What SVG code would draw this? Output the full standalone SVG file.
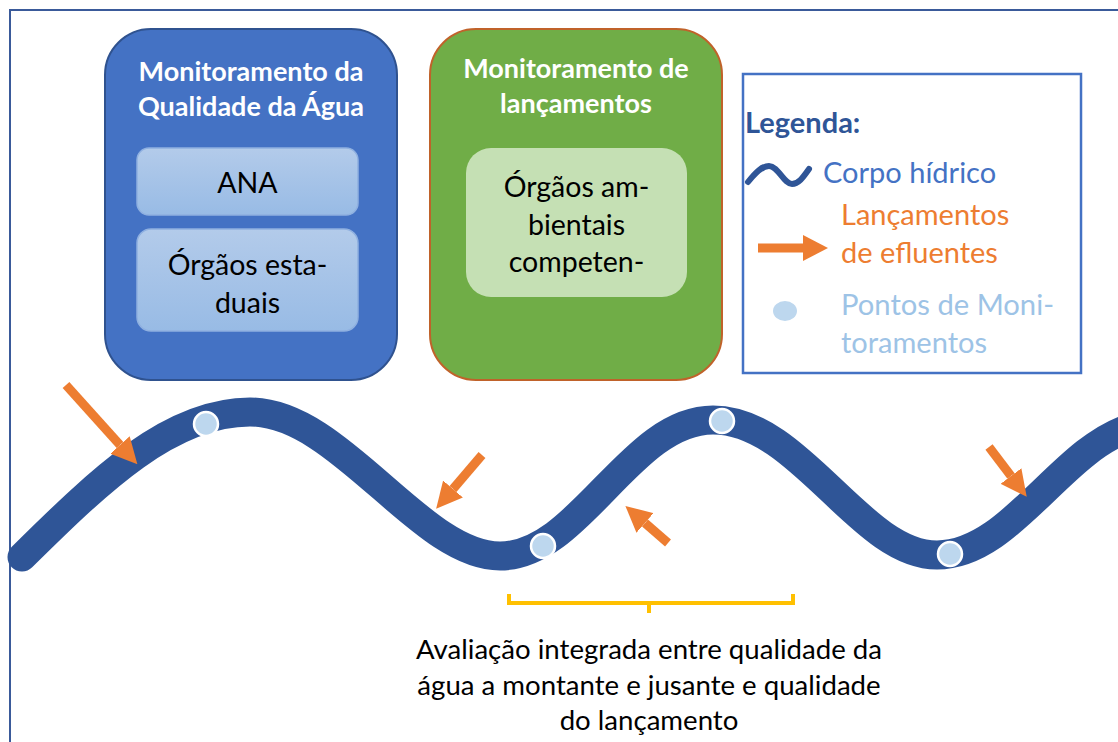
<svg xmlns="http://www.w3.org/2000/svg" width="1118" height="742" viewBox="0 0 1118 742">
<style>
  text { font-family: Lato, "Liberation Sans", sans-serif; }
  .title { font-weight: bold; font-size: 27px; fill: #ffffff; text-anchor: middle; }
  .body { font-size: 28.5px; fill: #000000; text-anchor: middle; }
  .cap { font-size: 27.6px; fill: #000000; text-anchor: middle; }
  .leg { font-size: 29px; }
  .arrow { stroke: #ED7D31; stroke-width: 9; fill: none; marker-end: url(#head); }
  .dot { fill: #BDD7EE; stroke: #ffffff; stroke-width: 2.5; }
</style>
<defs>
  <marker id="head" markerUnits="userSpaceOnUse" markerWidth="26" markerHeight="26" viewBox="0 0 26 26" refX="0" refY="13" orient="auto">
    <path d="M0,0 L26,13 L0,26 z" fill="#ED7D31"/>
  </marker>
  <linearGradient id="lb" x1="0" y1="0" x2="0" y2="1">
    <stop offset="0" stop-color="#B3CBEA"/>
    <stop offset="1" stop-color="#98BBE5"/>
  </linearGradient>
</defs>
<rect width="1118" height="742" fill="#ffffff"/>
<rect x="10" y="10" width="1120" height="740" fill="none" stroke="#3A5A9A" stroke-width="2"/>

<g id="node-qualidade">
  <rect x="105" y="29" width="292" height="351" rx="46" fill="#4472C4" stroke="#2F528F" stroke-width="2"/>
  <text class="title" x="251" y="81">Monitoramento da</text>
  <text class="title" x="251" y="116">Qualidade da Água</text>
  <g id="node-ana">
    <rect x="137" y="148" width="221" height="67" rx="12" fill="url(#lb)" stroke="#8FB0E0" stroke-width="1.5"/>
    <text class="body" x="247.5" y="193">ANA</text>
  </g>
  <g id="node-estaduais">
    <rect x="137" y="229" width="221" height="102" rx="14" fill="url(#lb)" stroke="#8FB0E0" stroke-width="1.5"/>
    <text class="body" x="247.5" y="275">Órgãos esta-</text>
    <text class="body" x="247.5" y="313">duais</text>
  </g>
</g>

<g id="node-lancamentos">
  <rect x="430" y="29" width="292" height="351" rx="46" fill="#70AD47" stroke="#C0622A" stroke-width="2"/>
  <text class="title" x="576" y="78">Monitoramento de</text>
  <text class="title" x="576" y="113">lançamentos</text>
  <g id="node-ambientais">
    <rect x="466" y="148" width="221" height="149" rx="25" fill="#C5E0B4"/>
    <text class="body" x="576.5" y="197">Órgãos am-</text>
    <text class="body" x="576.5" y="235">bientais</text>
    <text class="body" x="576.5" y="272">competen-</text>
  </g>
</g>

<g id="legend">
  <rect x="743" y="74" width="338" height="299" fill="#ffffff" stroke="#4472C4" stroke-width="2.5"/>
  <text x="745" y="133" font-size="29" font-weight="bold" fill="#2F5597">Legenda:</text>
  <path d="M748,182 C756,172 762,166 769,166 C778,166 784,184 792,184 C799,184 804,176 809,169" fill="none" stroke="#2F5597" stroke-width="6" stroke-linecap="round"/>
  <text class="leg" x="823" y="183" fill="#4472C4">Corpo hídrico</text>
  <line x1="758" y1="248" x2="803" y2="248" stroke="#ED7D31" stroke-width="9"/>
  <path d="M803,235 L828,248 L803,261 z" fill="#ED7D31"/>
  <text class="leg" x="841" y="225" fill="#ED7D31">Lançamentos</text>
  <text class="leg" x="841" y="263" fill="#ED7D31">de efluentes</text>
  <ellipse cx="785" cy="311" rx="12" ry="10" fill="#BDD7EE"/>
  <text class="leg" x="841" y="315" fill="#9DC3E6" textLength="213" lengthAdjust="spacingAndGlyphs">Pontos de Moni-</text>
  <text class="leg" x="841" y="353" fill="#9DC3E6">toramentos</text>
</g>

<g id="river">
  <path d="M22,557 C100,480 170,412 250,412 C340,412 420,556 500,556 C580,556 630,420 713,420 C800,420 860,555 937,555 C1010,555 1060,450 1130,428" fill="none" stroke="#2F5597" stroke-width="29" stroke-linecap="round"/>
  <circle class="dot" cx="206" cy="424" r="12"/>
  <circle class="dot" cx="543" cy="546" r="12"/>
  <circle class="dot" cx="722" cy="421" r="12"/>
  <circle class="dot" cx="950" cy="554" r="12"/>
</g>

<g id="connectors">
  <line class="arrow" x1="66" y1="385" x2="120" y2="445"/>
  <line class="arrow" x1="482" y1="455" x2="453" y2="489"/>
  <line class="arrow" x1="668" y1="543" x2="645" y2="523"/>
  <line class="arrow" x1="989" y1="447" x2="1011" y2="476"/>
</g>

<g id="bracket">
  <path d="M509,594 L509,603 L793,603 L793,594 M649,603 L649,613" fill="none" stroke="#FFC000" stroke-width="4"/>
</g>

<g id="caption">
  <text class="cap" x="649" y="659">Avaliação integrada entre qualidade da</text>
  <text class="cap" x="649" y="695">água a montante e jusante e qualidade</text>
  <text class="cap" x="649" y="730">do lançamento</text>
</g>
</svg>
